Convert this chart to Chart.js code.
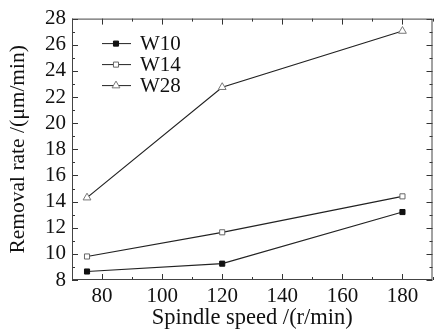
<!DOCTYPE html>
<html>
<head>
<meta charset="utf-8">
<script src="https://cdn.jsdelivr.net/npm/chart.js@4"></script>
<style>
  html, body { margin: 0; padding: 0; background: #ffffff; }
  #wrap { width: 438px; height: 332px; }
</style>
</head>
<body>
<div id="wrap"><canvas id="removalChart" width="438" height="332"></canvas></div>
<script>
const speeds = [75, 120, 180];
const w10 = [8.65, 9.25, 13.2];
const w14 = [9.8, 11.65, 14.4];
const w28 = [14.3, 22.75, 27.05];
const xTicks = [80, 100, 120, 140, 160, 180];
const yTicks = [8, 10, 12, 14, 16, 18, 20, 22, 24, 26, 28];

const serif = '"Liberation Serif", "DejaVu Serif", serif';

const toPoints = (vals) => vals.map((v, i) => ({ x: speeds[i], y: v }));

// inward ticks on all four sides, with minor ticks in between
const boxTicks = {
    id: 'boxTicks',
    afterDraw(chart) {
        const { ctx, chartArea: a, scales } = chart;
        const xs = scales.x, ys = scales.y;
        ctx.save();
        ctx.strokeStyle = '#333';
        ctx.lineWidth = 1;
        ctx.beginPath();
        for (let v = xs.min; v <= xs.max; v += 10) {
            const px = Math.round(xs.getPixelForValue(v)) + 0.5;
            const len = v % 20 === 0 ? 6 : 3;
            ctx.moveTo(px, a.bottom); ctx.lineTo(px, a.bottom - len);
            ctx.moveTo(px, a.top); ctx.lineTo(px, a.top + len);
        }
        for (let v = ys.min; v <= ys.max; v += 1) {
            const py = Math.round(ys.getPixelForValue(v)) + 0.5;
            const len = v % 2 === 0 ? 6 : 3;
            ctx.moveTo(a.left, py); ctx.lineTo(a.left + len, py);
            ctx.moveTo(a.right, py); ctx.lineTo(a.right - len, py);
        }
        ctx.stroke();
        ctx.strokeStyle = '#444';
        ctx.strokeRect(a.left + 0.5, a.top + 0.5, a.right - a.left - 1, a.bottom - a.top - 1);
        ctx.restore();
    }
};

// legend drawn inside the plot, line + marker + label
const innerLegend = {
    id: 'innerLegend',
    afterDraw(chart) {
        const { ctx, chartArea: a } = chart;
        ctx.save();
        ctx.font = '21px ' + serif;
        ctx.textBaseline = 'middle';
        chart.data.datasets.forEach((ds, i) => {
            const y = a.top + 25 + i * 21;
            const x0 = a.left + 30;
            const cx = x0 + 14;
            const r = ds.pointRadius;
            ctx.strokeStyle = ds.borderColor;
            ctx.lineWidth = 1;
            ctx.beginPath();
            ctx.moveTo(x0, y); ctx.lineTo(x0 + 29, y);
            ctx.stroke();
            ctx.fillStyle = ds.pointBackgroundColor;
            ctx.strokeStyle = ds.pointBorderColor;
            ctx.beginPath();
            if (ds.pointStyle === 'rect') {
                const s = Math.SQRT1_2 * r;
                ctx.rect(cx - s, y - s, 2 * s, 2 * s);
            } else {
                ctx.moveTo(cx, y - r);
                ctx.lineTo(cx + r * 0.866, y + r * 0.5);
                ctx.lineTo(cx - r * 0.866, y + r * 0.5);
                ctx.closePath();
            }
            ctx.fill();
            ctx.stroke();
            ctx.fillStyle = '#111';
            ctx.fillText(ds.label, x0 + 38, y + 1);
        });
        ctx.restore();
    }
};

new Chart(document.getElementById('removalChart'), {
    type: 'line',
    data: {
        datasets: [
            {
                label: 'W10',
                data: toPoints(w10),
                borderColor: '#222',
                borderWidth: 1.2,
                pointStyle: 'rect',
                pointRadius: 3.6,
                pointBackgroundColor: '#111',
                pointBorderColor: '#111',
                pointBorderWidth: 1
            },
            {
                label: 'W14',
                data: toPoints(w14),
                borderColor: '#222',
                borderWidth: 1.2,
                pointStyle: 'rect',
                pointRadius: 3.6,
                pointBackgroundColor: '#fff',
                pointBorderColor: '#666',
                pointBorderWidth: 1
            },
            {
                label: 'W28',
                data: toPoints(w28),
                borderColor: '#222',
                borderWidth: 1.2,
                pointStyle: 'triangle',
                pointRadius: 4.5,
                pointBackgroundColor: '#fff',
                pointBorderColor: '#777',
                pointBorderWidth: 1
            }
        ]
    },
    options: {
        responsive: false,
        animation: false,
        layout: { padding: { top: 14, right: 3, left: 0, bottom: 0 } },
        plugins: {
            legend: { display: false },
            tooltip: { enabled: false }
        },
        scales: {
            x: {
                type: 'linear',
                min: 70,
                max: 190,
                afterBuildTicks: (scale) => { scale.ticks = xTicks.map(v => ({ value: v })); },
                afterFit: (scale) => { scale.height = 52; },
                grid: { display: false, drawTicks: false },
                border: { display: false },
                ticks: {
                    color: '#111',
                    font: { family: serif, size: 21 },
                    padding: 4,
                    maxRotation: 0,
                    autoSkip: false
                },
                title: {
                    display: true,
                    text: 'Spindle speed /(r/min)',
                    color: '#111',
                    font: { family: serif, size: 22.5 },
                    padding: { top: -5, bottom: 0 }
                }
            },
            y: {
                min: 8,
                max: 28,
                afterBuildTicks: (scale) => { scale.ticks = yTicks.map(v => ({ value: v })); },
                afterFit: (scale) => { scale.width = 72; },
                grid: { display: false, drawTicks: false },
                border: { display: false },
                ticks: {
                    color: '#111',
                    font: { family: serif, size: 21 },
                    padding: 6,
                    autoSkip: false
                },
                title: {
                    display: true,
                    text: 'Removal rate /(μm/min)',
                    color: '#111',
                    font: { family: serif, size: 21.5 },
                    padding: { top: 5, bottom: 0 }
                }
            }
        }
    },
    plugins: [boxTicks, innerLegend]
});
</script>
</body>
</html>
